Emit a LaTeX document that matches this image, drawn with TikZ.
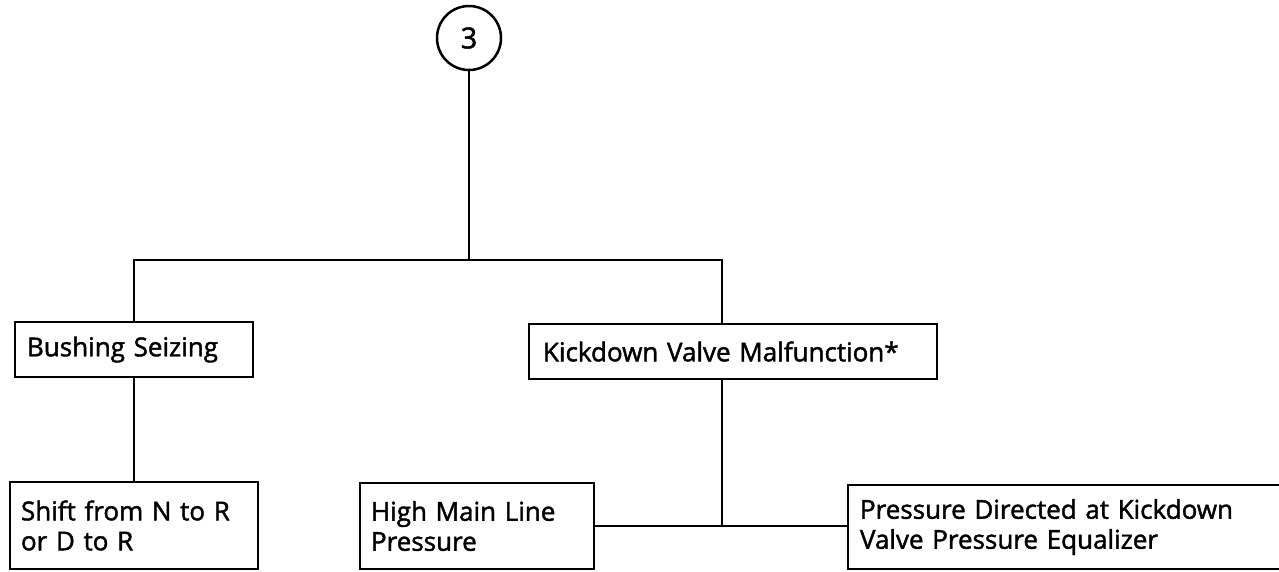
\documentclass[tikz,border=0pt]{standalone}
\usepackage{fontspec}
\newfontfamily\diagfont{Open Sans}[FakeBold=1.6, WordSpace=0.85]
\begin{document}
\begin{tikzpicture}[x=1pt,y=-1pt,
  line width=2.5pt,
  txt/.style={font=\diagfont\fontsize{26}{30}\selectfont},
  box/.style={draw, rectangle, txt, align=left, inner xsep=12pt, inner ysep=0pt, anchor=center},
  conn/.style={draw, line width=2.3pt}
]
\clip (0,0) rectangle (1279,571);
\fill[white] (0,0) rectangle (1279,571);

\node[draw, circle, minimum size=64pt, inner sep=0pt, font=\diagfont\fontsize{29}{30}\selectfont] (c) at (469,38) {3};

\node[box, text width=214pt, minimum height=55pt] (bush) at (134,349.5) {Bushing Seizing};
\node[box, text width=380pt, minimum height=55pt, inner xsep=14pt] (kick) at (733,351.5) {Kickdown Valve Malfunction*};

\node[box, text width=226pt, minimum height=87pt, inner xsep=11pt] (shift) at (134,525.5) {Shift from N to R\\or D to R};
\node[box, text width=212pt, minimum height=86pt, inner xsep=11pt] (high) at (477,526) {High Main Line\\Pressure};
\node[box, text width=428pt, minimum height=84pt] (press) at (1074,527) {Pressure Directed at Kickdown\\Valve Pressure Equalizer};

\coordinate (j1) at (469,260);
\coordinate (kin) at (722,260);
\coordinate (kb) at (722,526);

\draw[conn] (c.south) -- (j1);
\draw[conn] (bush.north) |- (kin) -- (kin |- kick.north);
\draw[conn] (bush.south) -- (shift.north);
\draw[conn] (kb |- kick.south) -- (kb);
\draw[conn] (high.east) -- (high.east -| press.west);
\end{tikzpicture}
\end{document}
